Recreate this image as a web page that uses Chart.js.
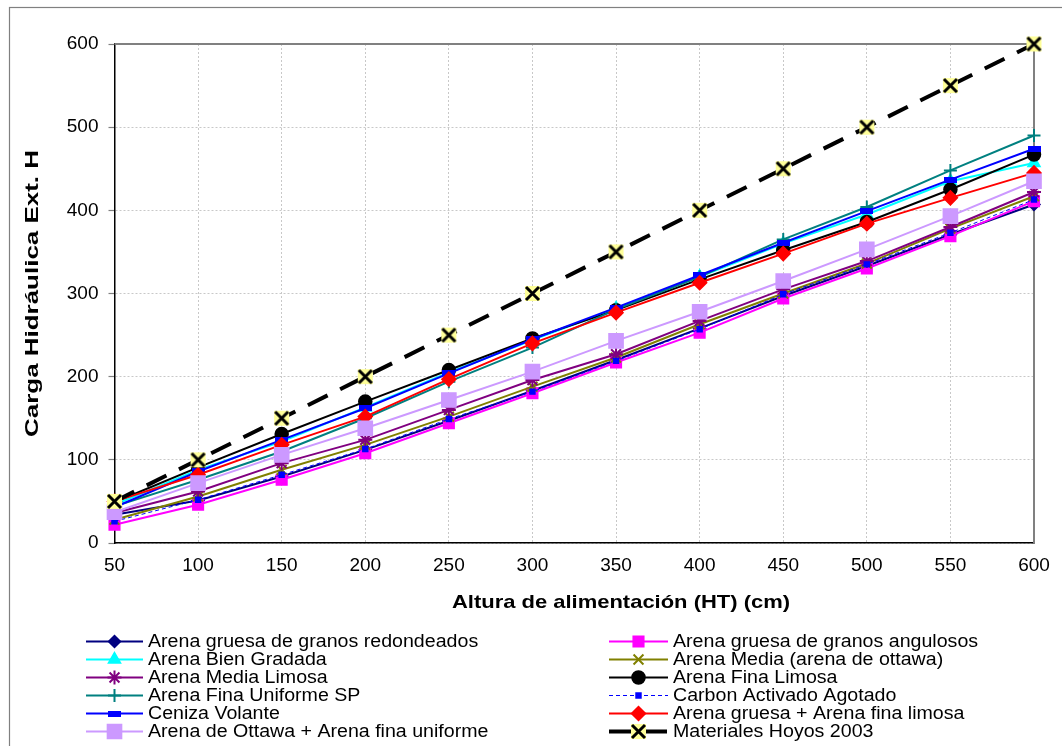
<!DOCTYPE html>
<html>
<head>
<meta charset="utf-8">
<script src="https://cdn.jsdelivr.net/npm/chart.js@4.4.1/dist/chart.umd.min.js"></script>
<style>
  html, body { margin: 0; padding: 0; background: #fff; }
  canvas { display: block; }
</style>
</head>
<body>
<canvas id="carga" width="1062" height="746"></canvas>
<script>
// Altura de alimentación (cm) en el eje X
const alturas = [50, 100, 150, 200, 250, 300, 350, 400, 450, 500, 550, 600];

// Carga hidráulica medida por material
const redondeados   = [34, 51, 80, 112, 147, 183, 220, 258, 297, 333, 371, 407];
const angulosos     = [22, 46, 76, 108, 144, 180, 217, 253, 294, 330, 369, 411];
const bienGradada   = [46, 88, 122, 163, 205, 244, 282, 320, 360, 395, 435, 457];
const mediaOttawa   = [28, 56, 88, 118, 152, 188, 223, 263, 300, 336, 378, 417];
const mediaLimosa   = [36, 62, 96, 124, 160, 196, 227, 267, 305, 339, 380, 422];
const finaLimosa    = [49, 91, 131, 170, 208, 246, 280, 317, 352, 386, 425, 467];
const finaUniforme  = [44, 76, 110, 150, 194, 235, 281, 320, 365, 404, 448, 490];
const carbon        = [26, 52, 82, 113, 149, 182, 219, 257, 299, 335, 373, 413];
const ceniza        = [43, 86, 124, 162, 204, 245, 283, 322, 361, 399, 437, 474];
const gruesaLimosa  = [50, 82, 118, 152, 197, 240, 277, 313, 348, 384, 415, 445];
const ottawaFina    = [37, 72, 106, 138, 172, 206, 243, 278, 315, 353, 393, 435];
const hoyos2003     = [50, 100, 150, 200, 250, 300, 350, 400, 450, 500, 550, 600];

const FONT = '"Liberation Sans", Arial, sans-serif';
const TITULO_X = 'Altura de alimentación (HT) (cm)';
const TITULO_Y = 'Carga Hidráulica Ext. H';

// marcador en forma de guion para Ceniza Volante
function dashMarker() {
  const c = document.createElement('canvas');
  c.width = 13; c.height = 6;
  const g = c.getContext('2d');
  g.fillStyle = '#0000FF';
  g.fillRect(0, 0, 13, 6);
  return c;
}

// X negra sobre cuadro amarillo (Hoyos 2003)
function hoyosMarker() {
  const c = document.createElement('canvas');
  c.width = 17; c.height = 17;
  const g = c.getContext('2d');
  g.fillStyle = '#FFFF99';
  g.fillRect(1, 1, 15, 15);
  g.strokeStyle = '#000';
  g.lineWidth = 3;
  g.beginPath();
  g.moveTo(2, 2); g.lineTo(15, 15);
  g.moveTo(15, 2); g.lineTo(2, 15);
  g.stroke();
  return c;
}

function serie(label, values, color, style, radius, extra) {
  return Object.assign({
    label,
    data: alturas.map((x, i) => ({ x, y: values[i] })),
    borderColor: color,
    borderWidth: 2,
    pointStyle: style,
    pointRadius: radius,
    pointHoverRadius: radius,
    pointBackgroundColor: color,
    pointBorderColor: color,
    pointBorderWidth: 1.5,
    tension: 0,
    fill: false,
    clip: false
  }, extra || {});
}

const datasets = [
  serie('Arena gruesa de granos redondeados', redondeados, '#000080', 'rectRot', 6),
  serie('Arena gruesa de granos angulosos', angulosos, '#FF00FF', 'rect', 7.5),
  serie('Arena Bien Gradada', bienGradada, '#00FFFF', 'triangle', 7),
  serie('Arena Media (arena de ottawa)', mediaOttawa, '#808000', 'crossRot', 7, { pointBorderWidth: 2 }),
  serie('Arena Media Limosa', mediaLimosa, '#800080', 'star', 7, { pointBorderWidth: 2 }),
  serie('Arena Fina Limosa', finaLimosa, '#000000', 'circle', 6.5),
  serie('Arena Fina Uniforme SP', finaUniforme, '#008080', 'cross', 6.5, { pointBorderWidth: 2 }),
  serie('Carbon Activado Agotado', carbon, '#0000FF', 'rect', 3.5, { borderWidth: 1, borderDash: [4, 3] }),
  serie('Ceniza Volante', ceniza, '#0000FF', dashMarker(), 7),
  serie('Arena gruesa + Arena fina limosa', gruesaLimosa, '#FF0000', 'rectRot', 7),
  serie('Arena de Ottawa + Arena fina uniforme', ottawaFina, '#CC99FF', 'rect', 10),
  serie('Materiales Hoyos 2003', hoyos2003, '#000000', hoyosMarker(), 8, { borderWidth: 4, borderDash: [22, 14] })
];
// la última serie queda encima
datasets.forEach((d, i) => { d.order = datasets.length - i; });

// texto ensanchado hasta un ancho dado
function textoAncho(ctx, text, x, y, width, rot) {
  ctx.save();
  ctx.translate(x, y);
  ctx.rotate(rot || 0);
  ctx.scale(width / ctx.measureText(text).width, 1);
  ctx.textAlign = 'center';
  ctx.textBaseline = 'middle';
  ctx.fillText(text, 0, 0);
  ctx.restore();
}

// marco, borde del área, títulos y leyenda a dos columnas
const marco = {
  id: 'marco',
  beforeDraw(chart) {
    const ctx = chart.ctx;
    ctx.save();
    ctx.fillStyle = '#fff';
    ctx.fillRect(0, 0, chart.width, chart.height);
    ctx.strokeStyle = '#808080';
    ctx.lineWidth = 1.2;
    ctx.strokeRect(9.5, 7.5, chart.width + 20, chart.height + 20);
    ctx.restore();
  },
  beforeDatasetsDraw(chart) {
    const { ctx, chartArea: a } = chart;
    ctx.save();
    ctx.strokeStyle = '#808080';
    ctx.lineWidth = 2;
    ctx.beginPath();
    ctx.moveTo(a.left, a.top);
    ctx.lineTo(a.right, a.top);
    ctx.lineTo(a.right, a.bottom);
    ctx.stroke();
    ctx.restore();
  },
  afterDraw(chart) {
    const ctx = chart.ctx;
    const a = chart.chartArea;
    ctx.save();
    ctx.fillStyle = '#000';
    ctx.font = 'bold 19px ' + FONT;
    textoAncho(ctx, TITULO_X, 621, 603, 338, 0);
    textoAncho(ctx, TITULO_Y, 33, (a.top + a.bottom) / 2, 287, -Math.PI / 2);

    const cols = [{ x0: 86, x1: 143 }, { x0: 609, x1: 668 }];
    chart.data.datasets.forEach((ds, i) => {
      const c = cols[i % 2];
      const y = 641.5 + Math.floor(i / 2) * 18;
      ctx.save();
      ctx.strokeStyle = ds.borderColor;
      ctx.lineWidth = ds.borderWidth;
      ctx.setLineDash(ds.borderDash || []);
      ctx.beginPath();
      ctx.moveTo(c.x0, y);
      ctx.lineTo(c.x1, y);
      ctx.stroke();
      ctx.setLineDash([]);
      ctx.fillStyle = ds.pointBackgroundColor;
      ctx.strokeStyle = ds.pointBorderColor;
      ctx.lineWidth = ds.pointBorderWidth;
      Chart.helpers.drawPoint(ctx, {
        pointStyle: ds.pointStyle,
        radius: ds.pointRadius,
        rotation: 0,
        borderWidth: ds.pointBorderWidth
      }, (c.x0 + c.x1) / 2, y);
      ctx.restore();

      ctx.save();
      ctx.fillStyle = '#000';
      ctx.font = '17.5px ' + FONT;
      ctx.textAlign = 'left';
      ctx.textBaseline = 'middle';
      ctx.translate(c.x1 + 5, y + 1);
      ctx.scale(1.12, 1);
      ctx.fillText(ds.label, 0, 0);
      ctx.restore();
    });
    ctx.restore();
  }
};

new Chart(document.getElementById('carga'), {
  type: 'line',
  data: { datasets },
  plugins: [marco],
  options: {
    responsive: false,
    animation: false,
    events: [],
    layout: { padding: { left: 10, right: 28, top: 44, bottom: 123 } },
    plugins: {
      legend: { display: false },
      tooltip: { enabled: false }
    },
    scales: {
      x: {
        type: 'linear',
        min: 50,
        max: 600,
        ticks: { stepSize: 50, color: '#000', font: { family: FONT, size: 19 }, padding: 11 },
        grid: { color: '#C8C8C8', drawTicks: false },
        border: { color: '#000', width: 1.5, dash: [2, 2] },
        afterFit(s) { s.height = 80; s.paddingLeft = 0; s.paddingRight = 0; }
      },
      y: {
        min: 0,
        max: 600,
        ticks: { stepSize: 100, color: '#000', font: { family: FONT, size: 19 }, padding: 10 },
        grid: { color: '#C8C8C8', tickLength: 6, tickColor: '#808080', tickWidth: 1.2 },
        border: { color: '#000', width: 1.5, dash: [2, 2] },
        afterFit(s) { s.width = 104.5; s.paddingTop = 0; s.paddingBottom = 0; }
      }
    }
  }
});
</script>
</body>
</html>
